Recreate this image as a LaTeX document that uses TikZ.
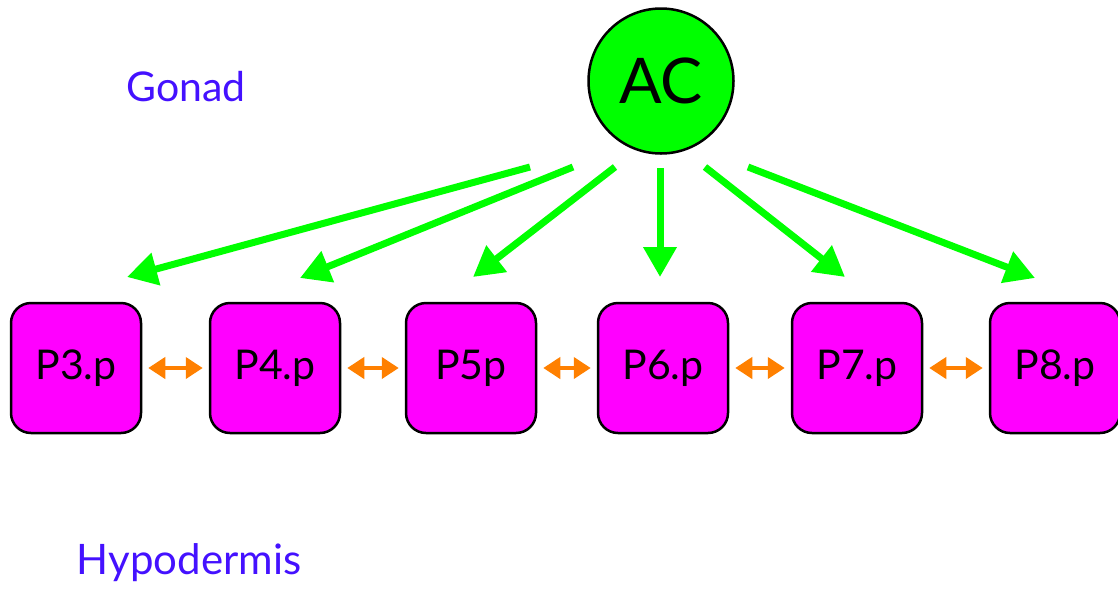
\documentclass[tikz,border=0pt]{standalone}
\usepackage{fontspec}
\setmainfont{Lato}
\usetikzlibrary{arrows.meta}
\definecolor{gon}{RGB}{0,255,0}
\definecolor{mag}{RGB}{255,0,255}
\definecolor{org}{RGB}{255,128,0}
\definecolor{lab}{RGB}{68,17,255}
\begin{document}
\begin{tikzpicture}[x=1pt,y=-1pt,
  pbox/.style={draw=black,line width=2.5pt,fill=mag,rounded corners=20pt,minimum width=130pt,minimum height=130pt,inner sep=0pt,font=\fontsize{41}{44}\selectfont},
  acnode/.style={circle,draw=black,line width=2.5pt,fill=gon,minimum size=145pt,inner sep=0pt,font=\fontsize{63}{70}\selectfont},
  garrow/.style={draw=gon,line width=7pt,-{Triangle[length=30pt,width=32pt]}},
  oarrow/.style={draw=org,line width=4pt,{Triangle[length=17pt,width=21pt]}-{Triangle[length=17pt,width=21pt]},shorten >=6pt,shorten <=6pt},
  lbl/.style={text=lab,inner sep=0pt}]
\useasboundingbox (0,0) rectangle (1118,590);
\node[acnode] (AC) at (661,81) {AC};
\node[pbox] (P3) at (76,368) {\raisebox{-4pt}{P3.p}};
\node[pbox] (P4) at (275,368) {\raisebox{-4pt}{P4.p}};
\node[pbox] (P5) at (471,368) {\raisebox{-4pt}{P5p}};
\node[pbox] (P6) at (663,368) {\raisebox{-4pt}{P6.p}};
\node[pbox] (P7) at (857,368) {\raisebox{-4pt}{P7.p}};
\node[pbox] (P8) at (1055,368) {\raisebox{-4pt}{P8.p}};
\node[lbl,font=\fontsize{41}{44}\selectfont] (gonad) at (186,87) {Gonad};
\node[lbl,font=\fontsize{42}{46}\selectfont] (hypo) at (189,563) {Hypodermis};
\coordinate (s1) at (530,167); \coordinate (e1) at (127,277);
\coordinate (s2) at (573,167); \coordinate (e2) at (300,278);
\coordinate (s3) at (615,167); \coordinate (e3) at (473,277);
\coordinate (s4) at (660,168); \coordinate (e4) at (660,277);
\coordinate (s5) at (705,167); \coordinate (e5) at (845,277);
\coordinate (s6) at (748,167); \coordinate (e6) at (1035,278);
\foreach \i in {1,...,6} {\draw[garrow] (s\i) -- (e\i);}
\draw[oarrow] (P3.east) -- (P4.west);
\draw[oarrow] (P4.east) -- (P5.west);
\draw[oarrow] (P5.east) -- (P6.west);
\draw[oarrow] (P6.east) -- (P7.west);
\draw[oarrow] (P7.east) -- (P8.west);
\end{tikzpicture}
\end{document}
